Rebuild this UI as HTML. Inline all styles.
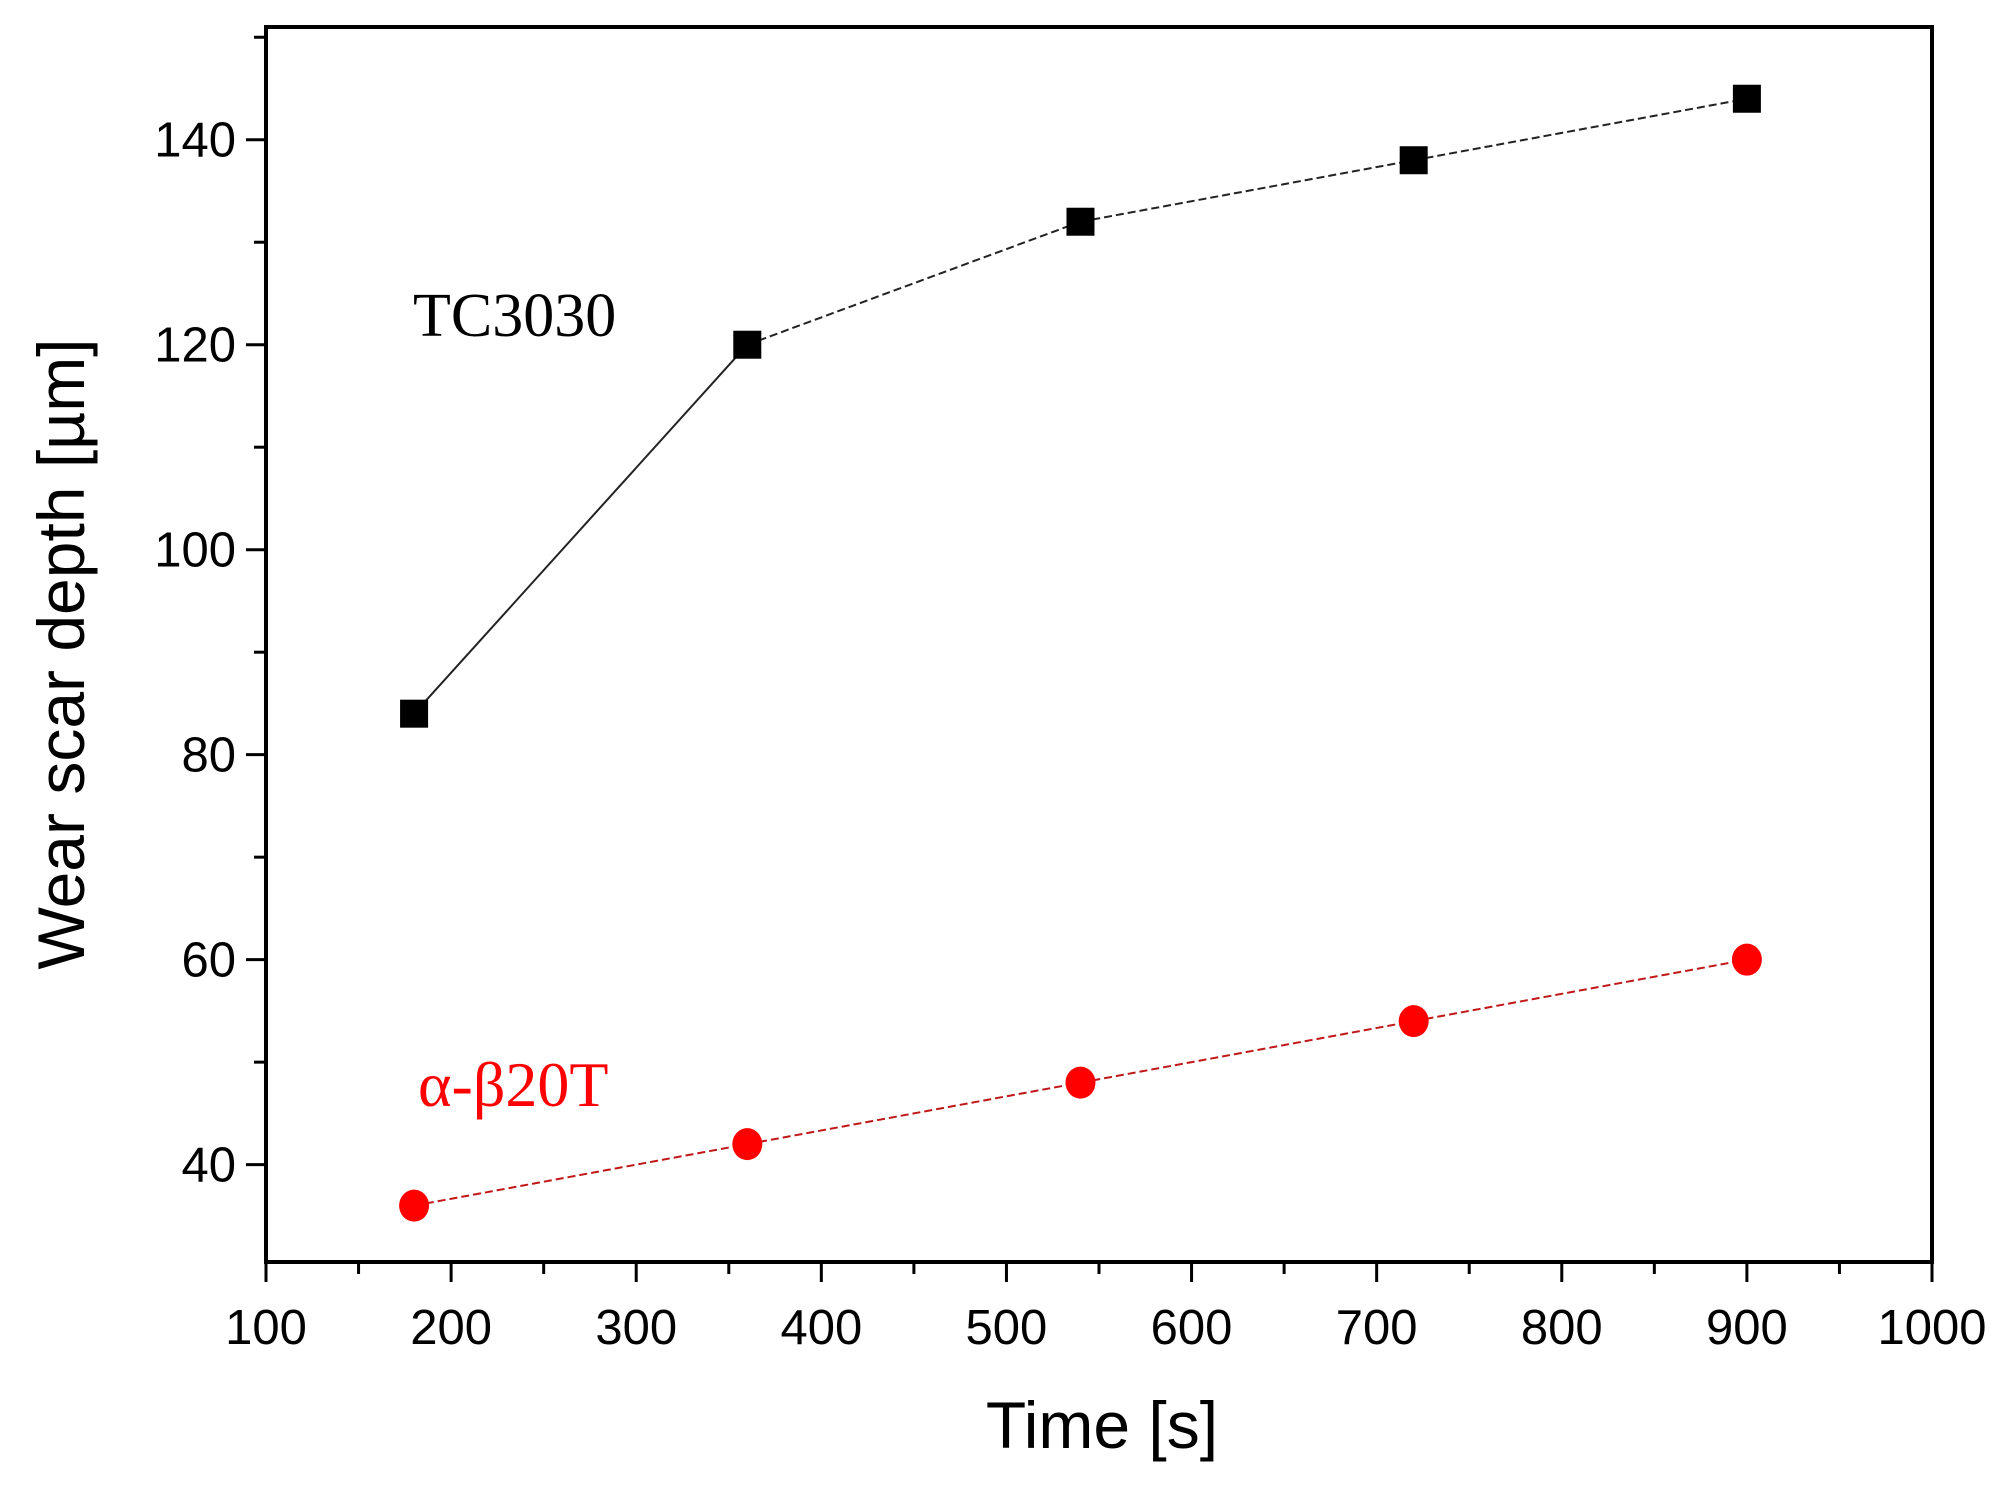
<!DOCTYPE html>
<html><head><meta charset="utf-8"><style>body{margin:0;background:#fff}svg{display:block}</style></head>
<body>
<svg id="chart" width="2012" height="1495" xmlns="http://www.w3.org/2000/svg" font-family="'Liberation Sans', Arial, sans-serif"></svg>
<script>
const times = [180, 360, 540, 720, 900];
const tc3030 = [84, 120, 132, 138, 144];
const ab20t = [36, 42, 48, 54, 60];
const xTicks = [100, 200, 300, 400, 500, 600, 700, 800, 900, 1000];
const yTicks = [40, 60, 80, 100, 120, 140];

const L = 266, R = 1932, T = 27, B = 1262;
const xMin = 100, xMax = 1000, yMin = 30.5, yMax = 151;
const sx = v => L + (v - xMin) / (xMax - xMin) * (R - L);
const sy = v => B - (v - yMin) / (yMax - yMin) * (B - T);
const svg = document.getElementById('chart');
const NS = 'http://www.w3.org/2000/svg';
function mk(tag, attrs, parent) {
  const e = document.createElementNS(NS, tag);
  for (const k in attrs) e.setAttribute(k, attrs[k]);
  (parent || svg).appendChild(e);
  return e;
}
const frame = mk('rect', {x: L, y: T, width: R - L, height: B - T, fill: 'none', stroke: '#000', 'stroke-width': 4});


xTicks.forEach((v, i) => {
  const x = sx(v);
  const t = mk('line', {x1: x, x2: x, y1: B, y2: B + 20, stroke: '#000', 'stroke-width': 3});
  
  
  const lb = mk('text', {x: x, y: B + 82, 'font-size': 49, 'text-anchor': 'middle'});
  lb.textContent = v;
  
  
  if (i < xTicks.length - 1) {
    const m = sx(v + 50);
    const mt = mk('line', {x1: m, x2: m, y1: B, y2: B + 12, stroke: '#000', 'stroke-width': 3});
    
    
  }
});
yTicks.forEach(v => {
  const y = sy(v);
  const t = mk('line', {x1: L - 20, x2: L, y1: y, y2: y, stroke: '#000', 'stroke-width': 3});
  
  
  const lb = mk('text', {x: L - 30, y: y + 17, 'font-size': 49, 'text-anchor': 'end'});
  lb.textContent = v;
  
  
});
[50, 70, 90, 110, 130, 150].forEach(v => {
  const y = sy(v);
  const t = mk('line', {x1: L - 12, x2: L, y1: y, y2: y, stroke: '#000', 'stroke-width': 3});
  
  
});
const xt = mk('text', {x: 1102, y: 1448, 'font-size': 66, 'text-anchor': 'middle'});
xt.textContent = 'Time [s]';


const yt = mk('text', {x: 0, y: 0, 'font-size': 66, 'text-anchor': 'middle', transform: 'translate(84,654) rotate(-90)'});
yt.textContent = 'Wear scar depth [\u00b5m]';


function series(vals, color, lineColor, name, marker) {
  for (let i = 0; i < vals.length - 1; i++) {
    const ln = mk('line', {x1: sx(times[i]), y1: sy(vals[i]), x2: sx(times[i + 1]), y2: sy(vals[i + 1]), stroke: lineColor, 'stroke-width': 2, 'stroke-dasharray': (name === 'tc3030' && i === 0) ? 'none' : '8 4'});
    
    
  }
  vals.forEach((v, i) => {
    let m;
    if (marker === 'square') m = mk('rect', {x: sx(times[i]) - 14, y: sy(v) - 14, width: 28, height: 28, fill: color});
    else m = mk('ellipse', {cx: sx(times[i]), cy: sy(v), rx: 15, ry: 16, fill: color});
    
    
  });
}
series(tc3030, '#000', '#222', 'tc3030', 'square');
series(ab20t, '#ff0000', '#c01818', 'ab20t', 'circle');
const l1 = mk('text', {x: 413, y: 336, 'font-size': 62, 'font-family': "'Liberation Serif', serif"});
l1.textContent = 'TC3030';


const l2 = mk('text', {x: 418, y: 1106, 'font-size': 64, fill: '#ff0000', 'font-family': "'Liberation Serif', serif"});
l2.textContent = '\u03b1-\u03b220T';


</script>
</body></html>
